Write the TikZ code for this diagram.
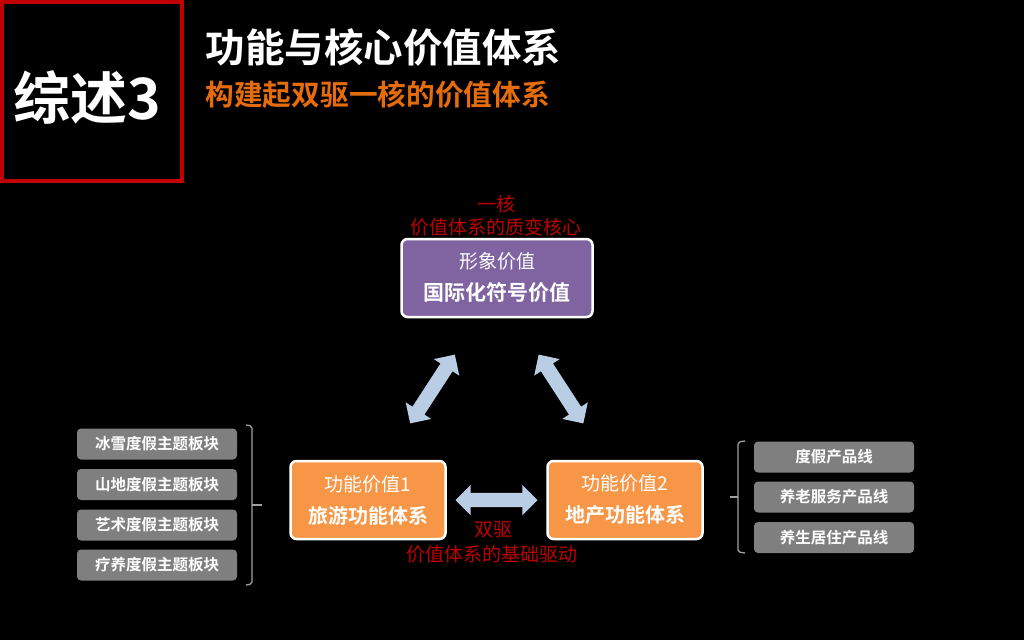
\documentclass[tikz,border=0pt]{standalone}
\usepackage{fontspec}
\usepackage{xcolor}
\usetikzlibrary{shapes.arrows,calc}
\setmainfont{Noto Sans CJK SC}[BoldFont={Noto Sans CJK SC Bold}]
\definecolor{C0}{RGB}{128,100,162}
\definecolor{C1}{RGB}{247,150,70}
\definecolor{C2}{RGB}{185,205,229}
\definecolor{C3}{RGB}{127,127,127}
\definecolor{C4}{RGB}{192,0,0}
\definecolor{C5}{RGB}{228,108,10}
\definecolor{C6}{RGB}{160,160,160}

\begin{document}
\begin{tikzpicture}[x=1pt,y=-1pt,
  valbox/.style={draw=white,line width=2.5pt,rounded corners=6pt,minimum width=155pt,
    minimum height=78pt,inner sep=0pt,align=center,text=white,font=\fontsize{19}{32}\selectfont},
  listbox/.style={fill=C3,rounded corners=4pt,minimum width=160pt,minimum height=31pt,
    inner sep=0pt,text=white,font=\bfseries\fontsize{15.5}{18}\selectfont},
  redtext/.style={text=C4,font=\fontsize{19}{22}\selectfont,inner sep=0pt},
  dblarrow/.style={double arrow,fill=C2,minimum height=82pt,minimum width=30pt,
    double arrow head extend=8pt,inner xsep=0pt,inner ysep=7pt},
  brace/.style={draw=C6,line width=1.3pt,rounded corners=2pt}]

  % Background.
  \useasboundingbox[fill=black] (0,0) rectangle (1024,640);

  % Heading.
  \draw[C4,line width=4pt] (2,2) rectangle (182,181);
  \node[text=white,font=\bfseries\fontsize{57}{60}\selectfont] (num) at (87,97) {综述3};
  \node[anchor=west,text=white,font=\bfseries\fontsize{39.5}{42}\selectfont] (ttl) at (202,47) {功能与核心价值体系};
  \node[anchor=west,text=C5,font=\bfseries\fontsize{28.7}{32}\selectfont] (sub) at (202,95) {构建起双驱一核的价值体系};

  % Value boxes.
  \node[valbox,fill=C0,minimum width=191pt] (tp) at (497,278)
    {形象价值\\{\bfseries\fontsize{21}{32}\selectfont 国际化符号价值}};
  \node[valbox,fill=C1] (lb) at (368,500)
    {功能价值1\\{\bfseries\fontsize{20}{32}\selectfont 旅游功能体系}};
  \node[valbox,fill=C1] (rb) at (625,500)
    {功能价值2\\{\bfseries\fontsize{20}{32}\selectfont 地产功能体系}};

  % Red labels.
  \node[redtext] (k1) at (496,204) {一核};
  \node[redtext] (k2) at (496,227) {价值体系的质变核心};
  \node[redtext] (d1) at (493,530) {双驱};
  \node[redtext] (d2) at (492,554) {价值体系的基础驱动};

  % Block arrows.
  \node[dblarrow] (ah) at ($(lb)!0.5!(rb)$) {};
  \node[dblarrow,rotate=57] (al) at ($(tp)!0.5!(lb)$) {};
  \node[dblarrow,rotate=-57] (ar) at ($(tp)!0.5!(rb)$) {};

  % Left list.
  \node[listbox] (l1) at (157,444) {冰雪度假主题板块};
  \node[listbox] (l2) at (157,484.5) {山地度假主题板块};
  \node[listbox] (l3) at (157,525) {艺术度假主题板块};
  \node[listbox] (l4) at (157,565) {疗养度假主题板块};
  \draw[brace] (246,425) -- (252,426) -- (252,584) -- (246,585);
  \draw[brace] (252,505) -- (262,505);

  % Right list.
  \node[listbox] (r1) at (834,457) {度假产品线};
  \node[listbox] (r2) at (834,497) {养老服务产品线};
  \node[listbox] (r3) at (834,537.5) {养生居住产品线};
  \draw[brace] (745,441) -- (738,442) -- (738,552) -- (745,553);
  \draw[brace] (738,497) -- (730,497);

\end{tikzpicture}
\end{document}
